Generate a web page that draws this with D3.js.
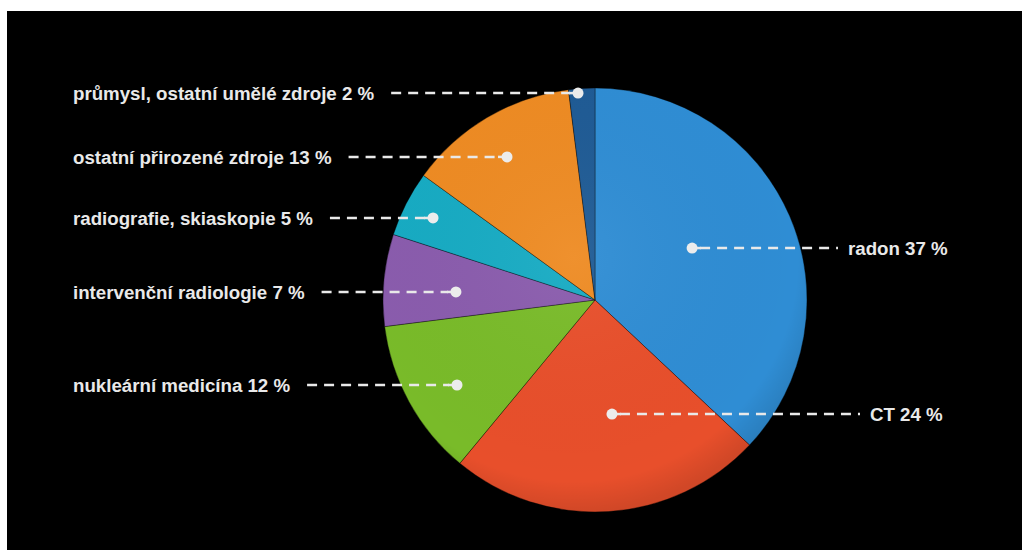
<!DOCTYPE html>
<html>
<head>
<meta charset="utf-8">
<script src="https://cdn.jsdelivr.net/npm/d3@7"></script>
<style>
  html, body { margin: 0; padding: 0; background: #fff; }
  svg { display: block; }
</style>
</head>
<body>
<svg id="chart"></svg>
<script>
// data, clockwise from 12 o'clock
const categories = ["radon", "CT", "nukleární medicína", "intervenční radiologie",
    "radiografie, skiaskopie", "ostatní přirozené zdroje", "průmysl, ostatní umělé zdroje"];
const shares = [37, 24, 12, 7, 5, 13, 2];
const colors = ["#2f8dd4", "#e84f2b", "#79bb29", "#8a5cad", "#17abc3", "#ee8b23", "#1f5b95"];

// annotation layout: dot position as fraction of radius, side of label
const dotFx = [0.458, 0.08, -0.651, -0.656, -0.764, -0.415, -0.08];
const dotFy = [-0.245, 0.538, 0.401, -0.038, -0.387, -0.675, -0.976];
const side = ["right", "right", "left", "left", "left", "left", "left"];
const rightTextX = [848, 870];

const width = 1022, height = 550;
const cx = 595, cy = 300, radius = 212;
const leftTextX = 73;

const svg = d3.select("#chart").attr("width", width).attr("height", height);

svg.append("rect")
    .attr("x", 7).attr("y", 11)
    .attr("width", width - 7).attr("height", height - 11)
    .attr("fill", "#000");

const defs = svg.append("defs");
const shade = defs.append("radialGradient")
    .attr("id", "shade")
    .attr("cx", "45%").attr("cy", "40%").attr("r", "60%");
shade.append("stop").attr("offset", "0%").attr("stop-color", "#fff").attr("stop-opacity", 0.05);
shade.append("stop").attr("offset", "88%").attr("stop-color", "#000").attr("stop-opacity", 0.0);
shade.append("stop").attr("offset", "100%").attr("stop-color", "#000").attr("stop-opacity", 0.1);

const data = categories.map((c, i) => ({ name: c, value: shares[i], color: colors[i], i: i }));

const pie = d3.pie().value(d => d.value).sort(null);
const arc = d3.arc().innerRadius(0).outerRadius(radius);

const g = svg.append("g").attr("transform", `translate(${cx},${cy})`);

g.selectAll("path.slice")
    .data(pie(data))
    .join("path")
    .attr("class", "slice")
    .attr("d", arc)
    .attr("fill", d => d.data.color)
    .attr("stroke", "rgba(0,0,0,0.35)")
    .attr("stroke-width", 1);

g.append("circle")
    .attr("r", radius)
    .attr("fill", "url(#shade)")
    .attr("pointer-events", "none");

const labels = svg.append("g");

data.forEach((d, i) => {
    const dx = cx + dotFx[i] * radius;
    const dy = cy + dotFy[i] * radius;
    const txt = `${d.name} ${d.value} %`;
    let x1, x2, tx;

    const t = labels.append("text")
        .attr("y", dy)
        .attr("dy", "0.36em")
        .attr("fill", "#e9e9e9")
        .attr("font-family", "'Liberation Sans', Arial, sans-serif")
        .attr("font-weight", "bold")
        .attr("font-size", "18.7px")
        .text(txt);

    if (side[i] === "left") {
        t.attr("x", leftTextX);
        const w = t.node().getComputedTextLength();
        x1 = leftTextX + w + 17;
        x2 = dx - 8;
    } else {
        tx = rightTextX[i];
        t.attr("x", tx);
        x1 = dx + 8;
        x2 = tx - 10;
    }

    labels.append("line")
        .attr("x1", x1).attr("x2", x2)
        .attr("y1", dy).attr("y2", dy)
        .attr("stroke", "#e9e9e9")
        .attr("stroke-width", 2.5)
        .attr("stroke-dasharray", "10,7");

    // short solid stub next to the dot
    labels.append("line")
        .attr("x1", dx).attr("x2", side[i] === "left" ? dx - 9 : dx + 9)
        .attr("y1", dy).attr("y2", dy)
        .attr("stroke", "#e9e9e9")
        .attr("stroke-width", 2.5);

    labels.append("circle")
        .attr("cx", dx).attr("cy", dy)
        .attr("r", 5.5)
        .attr("fill", "#ececec");
});
</script>
</body>
</html>
